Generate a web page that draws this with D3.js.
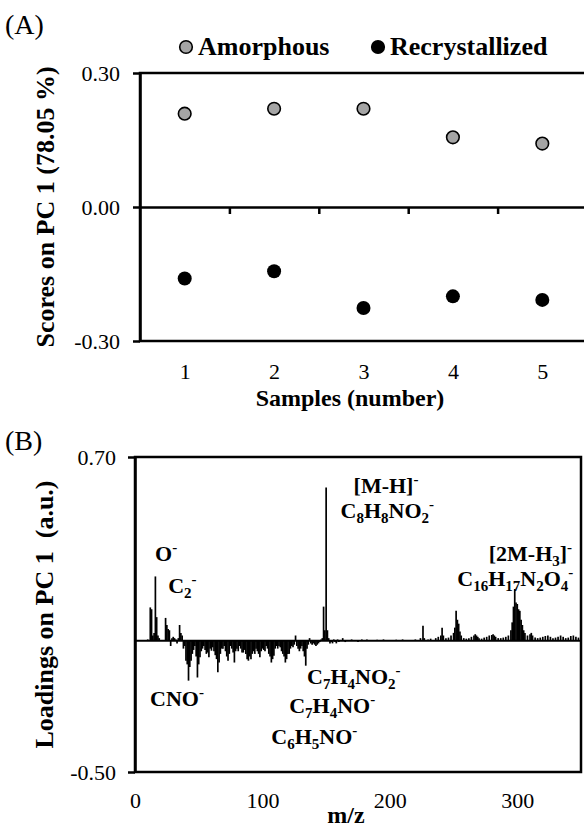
<!DOCTYPE html>
<html>
<head>
<meta charset="utf-8">
<script src="https://cdn.jsdelivr.net/npm/d3@7.9.0/dist/d3.min.js"></script>
<style>
  body { margin: 0; background: #fff; }
  svg { display: block; font-family: "Liberation Serif", "Times New Roman", serif; }
</style>
</head>
<body>
<svg id="chart" width="584" height="828"></svg>
<script>
// ---- panel A: PC1 scores ----
const samples = [1, 2, 3, 4, 5];
const amorphous = [0.209, 0.220, 0.220, 0.156, 0.142];
const recrystallized = [-0.160, -0.144, -0.226, -0.200, -0.208];
const scoreTicks = [-0.30, 0.00, 0.30];

// ---- panel B: PC1 loadings (m/z, loading) ----
const mz = [
  10, 12, 13, 14, 15, 16, 17, 18, 19, 24, 25, 26, 27, 28, 29, 30, 31, 32, 33, 34,
  35, 36, 37, 38, 39, 40, 41, 42, 43, 44, 45, 46, 47, 48, 49, 50, 51, 52, 53, 54,
  55, 56, 57, 58, 59, 60, 61, 62, 63, 64, 65, 66, 67, 68, 69, 70, 71, 72, 73, 74,
  75, 76, 77, 78, 79, 80, 81, 82, 83, 84, 85, 86, 87, 88, 89, 90, 91, 92, 93, 94,
  95, 96, 97, 98, 99, 100, 101, 102, 103, 104, 105, 106, 107, 108, 109, 110, 111, 112, 113, 114,
  115, 116, 117, 118, 119, 120, 121, 122, 123, 124, 125, 126, 127, 128, 129, 130, 131, 132, 133, 134,
  135, 136, 137, 138, 139, 140, 141, 142, 143, 144, 145, 146, 147, 148, 149, 150, 151, 152, 153, 154,
  155, 156, 157, 158, 159, 160, 161, 163, 165, 170, 175, 178, 182, 190, 195, 200, 205, 210, 215, 220,
  224, 226, 227, 230, 232, 236, 238, 240, 241, 242, 244, 246, 248, 250, 251, 252, 253, 254, 255, 256,
  258, 260, 262, 264, 266, 267, 268, 269, 270, 272, 274, 276, 278, 280, 281, 282, 283, 285, 287, 289,
  291, 293, 295, 296, 297, 298, 299, 300, 301, 302, 303, 304, 305, 306, 308, 310, 311, 312, 314, 316,
  318, 320, 322, 324, 326, 328, 330, 332, 334, 336, 338, 340, 342, 344, 346, 348, 350
];
const loading = [
  0.005, 0.127, 0.120, 0.020, 0.030, 0.245, 0.090, 0.020, 0.010, 0.087, 0.060, 0.045, 0.040, -0.020, 0.010, 0.015, 0.010, 0.005, -0.010, 0.010,
  0.060, 0.030, 0.020, -0.030, -0.020, -0.076, -0.090, -0.152, -0.100, -0.076, -0.050, -0.035, -0.020, -0.060, -0.140, -0.090, -0.063, -0.040, -0.030, -0.020,
  -0.035, -0.050, -0.045, -0.063, -0.030, -0.038, -0.025, -0.040, -0.055, -0.070, -0.120, -0.083, -0.050, -0.030, -0.030, -0.020, -0.040, -0.060, -0.076, -0.050,
  -0.020, -0.030, -0.045, -0.083, -0.040, -0.030, -0.040, -0.020, -0.030, -0.045, -0.045, -0.035, -0.050, -0.070, -0.076, -0.060, -0.070, -0.050, -0.040, -0.050,
  -0.030, -0.040, -0.050, -0.063, -0.040, -0.030, -0.035, -0.040, -0.020, -0.030, -0.050, -0.060, -0.083, -0.070, -0.057, -0.030, -0.020, -0.030, -0.020, -0.025,
  -0.040, -0.050, -0.060, -0.083, -0.070, -0.050, -0.050, -0.030, -0.020, -0.025, -0.015, 0.020, -0.020, -0.030, -0.040, -0.030, -0.020, -0.040, -0.060, -0.095,
  -0.030, -0.015, 0.010, -0.010, -0.015, -0.010, -0.015, -0.020, -0.015, -0.010, -0.005, 0.005, 0.010, 0.130, 0.040, 0.584, 0.040, 0.010, -0.010, -0.005,
  -0.010, 0.005, -0.005, -0.010, 0.005, -0.005, 0.003, 0.010, -0.005, 0.005, -0.005, 0.005, 0.005, 0.004, 0.005, 0.003, 0.004, 0.005, 0.003, 0.005,
  0.010, 0.057, 0.010, 0.005, 0.008, 0.010, 0.015, 0.020, 0.050, 0.020, 0.010, 0.012, 0.020, 0.030, 0.050, 0.114, 0.080, 0.065, 0.035, 0.020,
  0.010, 0.008, 0.010, 0.015, 0.020, 0.025, 0.020, 0.015, 0.010, 0.008, 0.012, 0.015, 0.020, 0.022, 0.025, 0.020, 0.015, 0.010, 0.010, 0.012,
  0.015, 0.020, 0.040, 0.070, 0.130, 0.197, 0.146, 0.140, 0.120, 0.114, 0.080, 0.060, 0.040, 0.030, 0.020, 0.025, 0.030, 0.020, 0.012, 0.010,
  0.012, 0.015, 0.018, 0.020, 0.015, 0.010, 0.012, 0.015, 0.020, 0.015, 0.010, 0.012, 0.018, 0.020, 0.015, 0.012, 0.010
];
const loadingTicks = [-0.50, 0.70];
const mzTicks = [0, 100, 200, 300];

const svg = d3.select('#chart');
const ink = '#000';
const fmt = d => d.toFixed(2);

// ---------- panel A ----------
const xA = d3.scaleLinear().domain([0.5, 5.5]).range([140, 587]);
const yA = d3.scaleLinear().domain([-0.3, 0.3]).range([341, 73]);

const gA = svg.append('g');
gA.append('rect')
  .attr('x', xA(0.5)).attr('y', yA(0.3))
  .attr('width', xA(5.5) - xA(0.5)).attr('height', yA(-0.3) - yA(0.3))
  .attr('fill', 'none').attr('stroke', ink).attr('stroke-width', 2.5);

// zero line with ticks between samples
gA.append('g')
  .attr('transform', `translate(0,${yA(0)})`)
  .call(d3.axisBottom(xA).tickValues([1.5, 2.5, 3.5, 4.5]).tickFormat('').tickSize(7).tickSizeOuter(0))
  .call(g => g.selectAll('line,path').attr('stroke', ink).attr('stroke-width', 2.5));

gA.append('g')
  .attr('transform', `translate(${xA(0.5)},0)`)
  .call(d3.axisLeft(yA).tickValues(scoreTicks).tickFormat(fmt).tickSize(7).tickPadding(13).tickSizeOuter(0))
  .call(g => g.selectAll('line,path').attr('stroke', ink).attr('stroke-width', 2.5))
  .call(g => g.selectAll('text').attr('font-size', 22).attr('font-family', 'Liberation Serif').attr('fill', ink));

gA.append('g')
  .attr('transform', `translate(0,${yA(-0.3)})`)
  .call(d3.axisBottom(xA).tickValues(samples).tickFormat(d3.format('d')).tickSize(0).tickPadding(22))
  .call(g => g.select('.domain').remove())
  .call(g => g.selectAll('text').attr('font-size', 22).attr('font-family', 'Liberation Serif').attr('fill', ink));

gA.selectAll('circle.amo').data(samples).join('circle')
  .attr('class', 'amo')
  .attr('cx', d => xA(d)).attr('cy', (d, i) => yA(amorphous[i]))
  .attr('r', 6.3).attr('fill', '#a5a5a5').attr('stroke', ink).attr('stroke-width', 1.6);

gA.selectAll('circle.rec').data(samples).join('circle')
  .attr('class', 'rec')
  .attr('cx', d => xA(d)).attr('cy', (d, i) => yA(recrystallized[i]))
  .attr('r', 7).attr('fill', ink);

svg.append('text').attr('x', 350).attr('y', 406)
  .attr('text-anchor', 'middle').attr('font-size', 24).attr('font-weight', 'bold')
  .text('Samples (number)');

svg.append('text')
  .attr('transform', `translate(54,${(yA(0.3) + yA(-0.3)) / 2}) rotate(-90)`)
  .attr('text-anchor', 'middle').attr('font-size', 26).attr('font-weight', 'bold')
  .text('Scores on PC 1 (78.05 %)');

svg.append('text').attr('x', 5).attr('y', 34).attr('font-size', 28).text('(A)');

// legend
const legend = [
  { name: 'Amorphous', fill: '#a5a5a5', x: 186 },
  { name: 'Recrystallized', fill: ink, x: 378 }
];
legend.forEach(l => {
  svg.append('circle').attr('cx', l.x).attr('cy', 47).attr('r', 6.3)
    .attr('fill', l.fill).attr('stroke', ink).attr('stroke-width', 1.6);
  svg.append('text').attr('x', l.x + 12).attr('y', 55)
    .attr('font-size', 26).attr('font-weight', 'bold').text(l.name);
});

// ---------- panel B ----------
const xB = d3.scaleLinear().domain([0, 350]).range([135, 581]);
const yB = d3.scaleLinear().domain([-0.5, 0.7]).range([772, 457]);

const gB = svg.append('g');
gB.append('rect')
  .attr('x', xB(0)).attr('y', yB(0.7))
  .attr('width', xB(350) - xB(0)).attr('height', yB(-0.5) - yB(0.7))
  .attr('fill', 'none').attr('stroke', ink).attr('stroke-width', 2.5);

gB.selectAll('line.peak').data(mz).join('line')
  .attr('class', 'peak')
  .attr('x1', d => xB(d)).attr('x2', d => xB(d))
  .attr('y1', yB(0)).attr('y2', (d, i) => yB(loading[i]))
  .attr('stroke', ink).attr('stroke-width', 1.7);

gB.append('line')
  .attr('x1', xB(0)).attr('x2', xB(350)).attr('y1', yB(0)).attr('y2', yB(0))
  .attr('stroke', ink).attr('stroke-width', 2);

gB.append('g')
  .attr('transform', `translate(${xB(0)},0)`)
  .call(d3.axisLeft(yB).tickValues(loadingTicks).tickFormat(fmt).tickSize(7).tickPadding(12).tickSizeOuter(0))
  .call(g => g.selectAll('line,path').attr('stroke', ink).attr('stroke-width', 2.5))
  .call(g => g.selectAll('text').attr('font-size', 22).attr('font-family', 'Liberation Serif').attr('fill', ink));

gB.append('g')
  .attr('transform', `translate(0,${yB(-0.5)})`)
  .call(d3.axisBottom(xB).tickValues(mzTicks).tickFormat(d3.format('d')).tickSize(0).tickPadding(20))
  .call(g => g.select('.domain').remove())
  .call(g => g.selectAll('text').attr('font-size', 22).attr('font-family', 'Liberation Serif').attr('fill', ink));

svg.append('text').attr('x', 346).attr('y', 823)
  .attr('text-anchor', 'middle').attr('font-size', 24).attr('font-weight', 'bold')
  .text('m/z');

svg.append('text')
  .attr('transform', `translate(53,${(yB(0.7) + yB(-0.5)) / 2}) rotate(-90)`)
  .attr('text-anchor', 'middle').attr('font-size', 26).attr('font-weight', 'bold')
  .attr('xml:space', 'preserve')
  .text('Loadings on PC 1  (a.u.)');

svg.append('text').attr('x', 5).attr('y', 450).attr('font-size', 28).text('(B)');

// peak labels: "_n" subscript, "^-" superscript
function formula(sel, str) {
  const parts = str.match(/_\d+|\^-|[^_^]+/g);
  let shift = 0;
  parts.forEach(p => {
    let dy = 0, txt = p, size = null;
    if (p[0] === '_') { txt = p.slice(1); size = 15; dy = 5 - shift; shift = 5; }
    else if (p[0] === '^') { txt = '-'; size = 15; dy = -9 - shift; shift = -9; }
    else { dy = -shift; shift = 0; }
    const t = sel.append('tspan').attr('dy', dy).text(txt);
    if (size) t.attr('font-size', size);
  });
}

const peakLabels = [
  { t: 'O^-', mz: 15.7, v: 0.305, a: 'start' },
  { t: 'C_2^-', mz: 26, v: 0.183, a: 'start' },
  { t: '[M-H]^-', mz: 197, v: 0.564, a: 'middle' },
  { t: 'C_8H_8NO_2^-', mz: 198, v: 0.469, a: 'middle' },
  { t: '[2M-H_3]^-', mz: 343, v: 0.305, a: 'end' },
  { t: 'C_16H_17N_2O_4^-', mz: 344, v: 0.207, a: 'end' },
  { t: 'CNO^-', mz: 11.8, v: -0.248, a: 'start' },
  { t: 'C_7H_4NO_2^-', mz: 135, v: -0.164, a: 'start' },
  { t: 'C_7H_4NO^-', mz: 121, v: -0.274, a: 'start' },
  { t: 'C_6H_5NO^-', mz: 107, v: -0.392, a: 'start' }
];
peakLabels.forEach(l => {
  const txt = svg.append('text')
    .attr('x', xB(l.mz)).attr('y', yB(l.v))
    .attr('text-anchor', l.a).attr('font-size', 22).attr('font-weight', 'bold');
  formula(txt, l.t);
});
</script>
</body>
</html>
